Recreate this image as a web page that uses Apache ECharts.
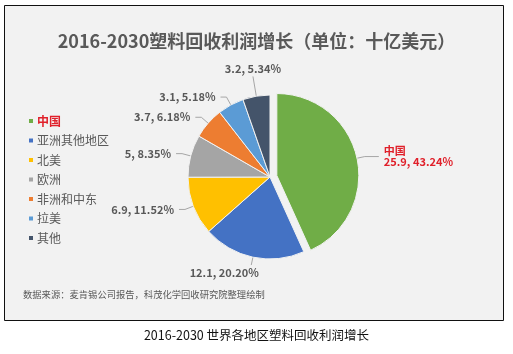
<!DOCTYPE html>
<html>
<head>
<meta charset="utf-8">
<script src="https://cdn.jsdelivr.net/npm/echarts@6/dist/echarts.min.js"></script>
<style>
  html, body { margin: 0; padding: 0; background: #fff; }
  #chart { width: 513px; height: 354px; }
</style>
</head>
<body>
<div id="chart"></div>
<script>
const regions = ['中国', '亚洲其他地区', '北美', '欧洲', '非洲和中东', '拉美', '其他'];
const profits = [25.9, 12.1, 6.9, 5, 3.7, 3.1, 3.2];
const colors = ['#70ad47', '#4472c4', '#ffc000', '#a5a5a5', '#ed7d31', '#5b9bd5', '#44546a'];

const font = '"Noto Sans CJK SC", "Noto Sans", sans-serif';
const total = profits.reduce((a, b) => a + b, 0);
// Excel style: each share rounded on its own, not forced to sum to 100
const pct = (v) => (v / total * 100).toFixed(2) + '%';

const myChart = echarts.init(document.querySelector('#chart'));

const pieData = regions.map((name, i) => {
  const item = {
    name,
    value: profits[i],
    itemStyle: { color: colors[i] },
  };
  if (i === 0) {
    item.selected = true;
    item.label = {
      color: '#e0202a',
      formatter: (p) => p.name + '\n' + p.value + ', ' + pct(p.value),
      align: 'center',
    };
    item.labelLine = { length: 8, length2: 14 };
  }
  if (i === 6) item.labelLine = { length: 20, length2: 0 };
  if (i === 1) item.labelLine = { length: 8, length2: 0 };
  return item;
});

const option = {
  backgroundColor: '#fff',
  graphic: [
    {
      type: 'rect',
      shape: { x: 4.5, y: 5.5, width: 499, height: 315 },
      style: { fill: '#f2f2f2', stroke: '#111', lineWidth: 1 },
      z: -10,
    },
    {
      type: 'text',
      left: 23,
      top: 290,
      style: {
        text: '数据来源：麦肯锡公司报告，科茂化学回收研究院整理绘制',
        fill: '#595959',
        font: '9.3px ' + font,
      },
    },
    {
      type: 'text',
      left: 'center',
      top: 329,
      style: {
        text: '2016-2030 世界各地区塑料回收利润增长',
        fill: '#111',
        font: '12.5px ' + font,
      },
    },
  ],
  title: {
    text: '2016-2030塑料回收利润增长（单位：十亿美元）',
    left: 'center',
    top: 27,
    textStyle: {
      fontFamily: font,
      fontSize: 18,
      fontWeight: 'bold',
      color: '#595959',
    },
  },
  legend: {
    orient: 'vertical',
    left: 22,
    top: 110,
    itemWidth: 6,
    itemHeight: 6,
    itemGap: 7.5,
    icon: 'rect',
    selectedMode: false,
    textStyle: { fontFamily: font, fontSize: 12, color: '#595959', padding: [0, 0, 0, -2] },
    data: regions.map((name, i) =>
      i === 0
        ? { name, textStyle: { color: '#e0202a', fontWeight: 'bold' } }
        : { name }
    ),
  },
  series: [
    {
      type: 'pie',
      center: [270, 177],
      radius: [0, 82],
      startAngle: 90,
      clockwise: true,
      selectedMode: 'single',
      selectedOffset: 7,
      avoidLabelOverlap: true,
      animation: false,
      itemStyle: { borderColor: '#f2f2f2', borderWidth: 1 },
      emphasis: { disabled: true },
      label: {
        show: true,
        formatter: (p) => p.value + ', ' + pct(p.value),
        fontFamily: font,
        fontSize: 11,
        fontWeight: 'bold',
        color: '#595959',
      },
      labelLine: {
        show: true,
        length: 9,
        length2: 6,
        lineStyle: { color: '#a6a6a6', width: 1 },
      },
      // top and bottom labels sit centred at the end of their leader line
      labelLayout: (p) => {
        const pts = p.labelLinePoints;
        if (!pts) return {};
        const end = pts[1];
        if (p.dataIndex === 6) {
          return { x: end[0], y: end[1] - 2, align: 'center', verticalAlign: 'bottom',
                   labelLinePoints: [pts[0], end, end] };
        }
        if (p.dataIndex === 1) {
          return { x: end[0] - 27, y: end[1] + 2, align: 'center', verticalAlign: 'top',
                   labelLinePoints: [pts[0], end, end] };
        }
        return {};
      },
      data: pieData,
    },
  ],
};

option && myChart.setOption(option);
</script>
</body>
</html>
